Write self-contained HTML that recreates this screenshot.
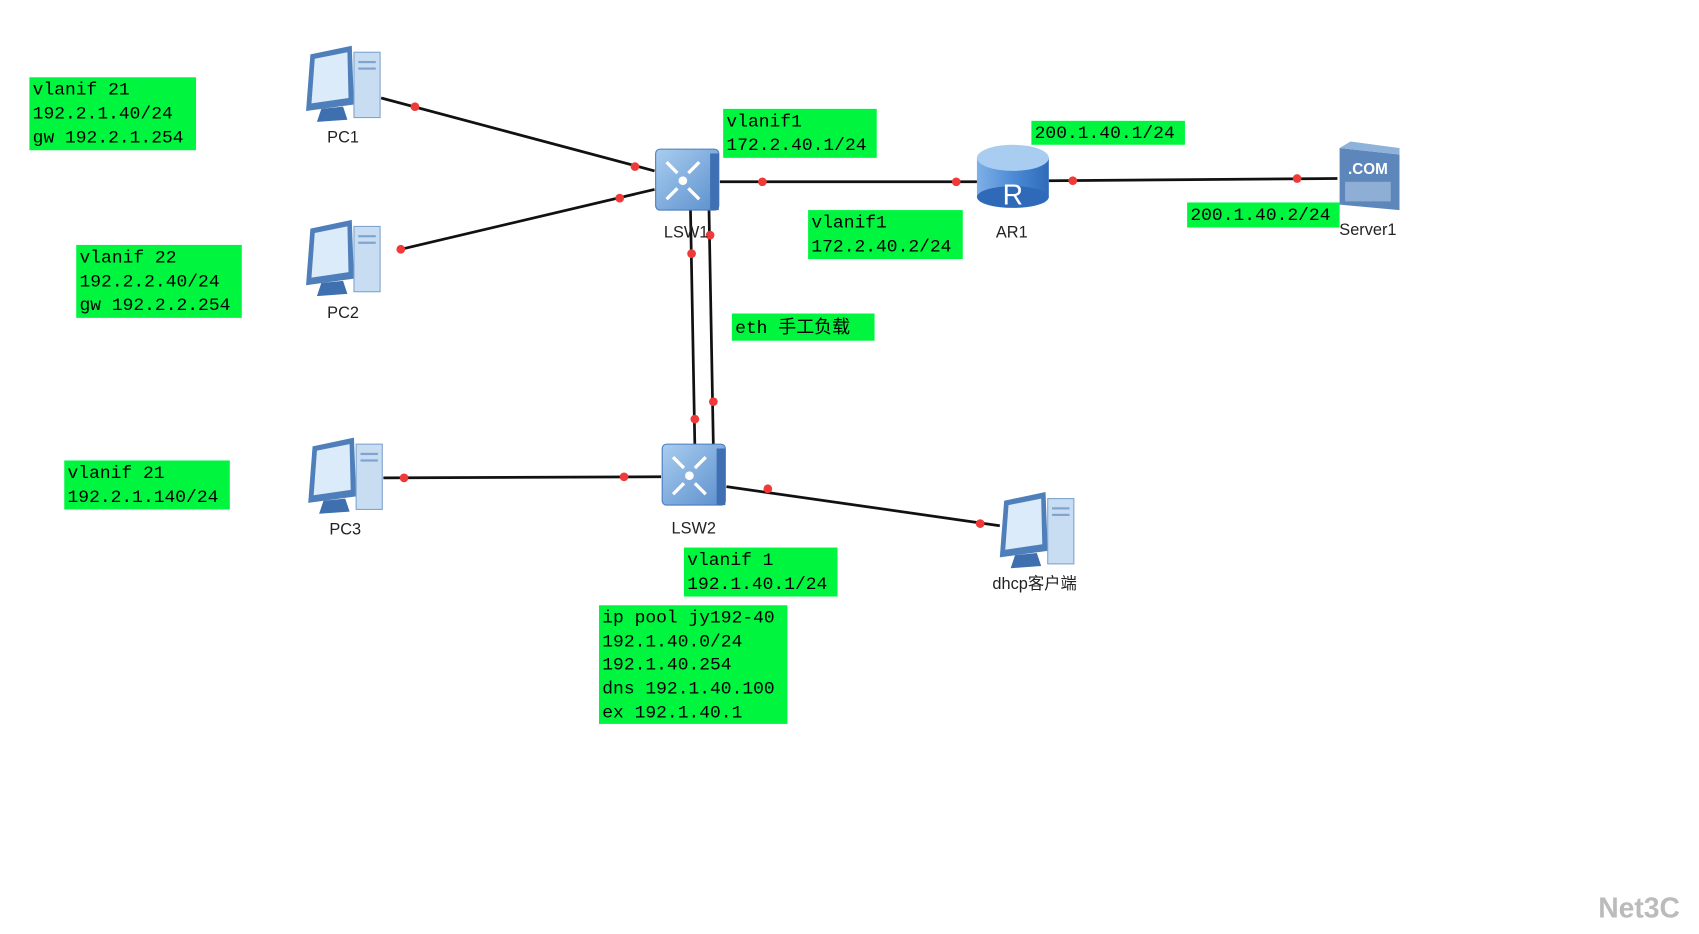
<!DOCTYPE html>
<html><head><meta charset="utf-8"><style>
html,body{margin:0;padding:0;background:#fff;width:1699px;height:934px;overflow:hidden}
svg{display:block}
.m{font-family:"Liberation Mono","Noto Sans CJK SC",monospace;font-size:16.5px;fill:#000}
.l{font-family:"Liberation Sans","Noto Sans CJK SC",sans-serif;font-size:15px;fill:#222;text-anchor:middle}
</style></head><body>
<svg width="1699" height="934" viewBox="0 0 1560 858" preserveAspectRatio="none" xmlns="http://www.w3.org/2000/svg">
<defs>
<linearGradient id="swg" x1="0" y1="0" x2="1" y2="1"><stop offset="0" stop-color="#a9cdf0"/><stop offset="1" stop-color="#5b8fcc"/></linearGradient>
<linearGradient id="rt" x1="0" y1="0" x2="1" y2="0"><stop offset="0" stop-color="#7fb0e6"/><stop offset="0.5" stop-color="#4d8bd6"/><stop offset="1" stop-color="#2f6ab8"/></linearGradient>
<g id="pc">
<polygon points="-30,-28 8,-36 10,18 -34,24" fill="#4f7fba"/>
<polygon points="-26,-24 4,-30 5,12 -29,17" fill="#dcebfa"/>
<rect x="10" y="-30" width="24" height="60" fill="#c8dcf2" stroke="#7ea4cf"/>
<rect x="14" y="-22" width="16" height="2" fill="#7ea4cf"/><rect x="14" y="-16" width="16" height="2" fill="#7ea4cf"/>
<polygon points="-20,22 0,20 4,32 -24,34" fill="#3e6fae"/>
</g>
<g id="swi"><rect x="0" y="0" width="58" height="56" rx="4" fill="url(#swg)" stroke="#4a7cbf"/>
<rect x="50" y="4" width="8" height="52" fill="#3f70b3"/>
<circle cx="25" cy="29" r="4" fill="#fff"/>
<path d="M10 12 L20 22 M40 12 L30 22 M10 46 L20 36 M40 46 L30 36" stroke="#fff" stroke-width="3"/></g>
</defs>
<g stroke="#111" stroke-width="2.5" fill="none">
<line x1="350" y1="90" x2="601" y2="157"/>
<line x1="368" y1="229" x2="601" y2="174"/>
<line x1="661" y1="167" x2="897" y2="167"/>
<line x1="963" y1="166" x2="1228" y2="164"/>
<line x1="634" y1="193" x2="638" y2="410"/>
<line x1="651" y1="193" x2="655" y2="410"/>
<line x1="352" y1="439" x2="607" y2="438"/>
<line x1="667" y1="447" x2="918" y2="483"/>
</g>
<use href="#pc" x="315" y="78"/><use href="#pc" x="315" y="238"/><use href="#pc" x="317" y="438"/><use href="#pc" x="952" y="488"/>
<use href="#swi" x="602" y="137"/><use href="#swi" x="608" y="408"/>
<g fill="#f03a3a">
<circle cx="381" cy="98" r="4"/><circle cx="583" cy="153" r="4"/>
<circle cx="368" cy="229" r="4"/><circle cx="569" cy="182" r="4"/>
<circle cx="700" cy="167" r="4"/><circle cx="878" cy="167" r="4"/>
<circle cx="985" cy="166" r="4"/><circle cx="1191" cy="164" r="4"/>
<circle cx="635" cy="233" r="4"/><circle cx="638" cy="385" r="4"/>
<circle cx="652" cy="216" r="4"/><circle cx="655" cy="369" r="4"/>
<circle cx="371" cy="439" r="4"/><circle cx="573" cy="438" r="4"/>
<circle cx="705" cy="449" r="4"/><circle cx="900" cy="481" r="4"/>
</g>
<g><rect x="897" y="145" width="66" height="36" fill="url(#rt)"/><ellipse cx="930" cy="181" rx="33" ry="10" fill="#2f6ab8"/><ellipse cx="930" cy="145" rx="33" ry="12" fill="#a9cdf0"/>
<text x="930" y="188" font-family="Liberation Sans" font-size="26" fill="#fff" text-anchor="middle">R</text></g>
<g><polygon points="1230,136 1285,142 1285,193 1230,188" fill="#5d87ba"/><polygon points="1230,136 1240,130 1285,136 1285,142" fill="#8fb2da"/>
<text x="1256" y="160" font-family="Liberation Sans" font-size="14" font-weight="bold" fill="#fff" text-anchor="middle">.COM</text>
<rect x="1235" y="167" width="42" height="18" fill="#8eaed5"/></g>
<g class="l">
<text x="315" y="131">PC1</text><text x="315" y="292">PC2</text><text x="317" y="491">PC3</text>
<text x="630" y="218">LSW1</text><text x="637" y="490">LSW2</text>
<text x="929" y="218">AR1</text><text x="1256" y="216">Server1</text><text x="950" y="541">dhcp客户端</text>
</g>
<g fill="#00f53f">
<rect x="27" y="71" width="153" height="67"/><rect x="70" y="225" width="152" height="67"/>
<rect x="59" y="423" width="152" height="45"/><rect x="664" y="100" width="141" height="45"/>
<rect x="742" y="193" width="142" height="45"/><rect x="947" y="111" width="141" height="22"/>
<rect x="1090" y="186" width="140" height="23"/><rect x="672" y="288" width="131" height="25"/>
<rect x="628" y="503" width="141" height="45"/><rect x="550" y="556" width="173" height="109"/>
</g>
<g class="m">
<text x="30" y="87">vlanif 21</text><text x="30" y="109">192.2.1.40/24</text><text x="30" y="131">gw 192.2.1.254</text>
<text x="73" y="241">vlanif 22</text><text x="73" y="263">192.2.2.40/24</text><text x="73" y="285">gw 192.2.2.254</text>
<text x="62" y="439">vlanif 21</text><text x="62" y="461">192.2.1.140/24</text>
<text x="667" y="116">vlanif1</text><text x="667" y="138">172.2.40.1/24</text>
<text x="745" y="209">vlanif1</text><text x="745" y="231">172.2.40.2/24</text>
<text x="950" y="127">200.1.40.1/24</text><text x="1093" y="202">200.1.40.2/24</text>
<text x="675" y="306">eth 手工负载</text>
<text x="631" y="519">vlanif 1</text><text x="631" y="541">192.1.40.1/24</text>
<text x="553" y="572">ip pool jy192-40</text><text x="553" y="594">192.1.40.0/24</text><text x="553" y="615">192.1.40.254</text><text x="553" y="637">dns 192.1.40.100</text><text x="553" y="659">ex 192.1.40.1</text>
</g>
<text x="1505" y="843" font-family="Liberation Sans" font-size="26" font-weight="bold" fill="#bbb" text-anchor="middle">Net3C</text>
</svg>
</body></html>
